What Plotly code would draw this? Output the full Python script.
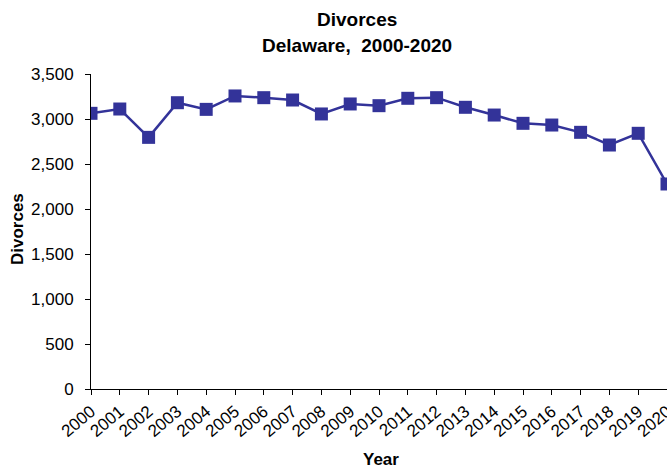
import plotly.graph_objects as go

years = list(range(2000, 2021))
divorces = [3063, 3111, 2796, 3181, 3107, 3256, 3237, 3211, 3056, 3167, 3148,
            3230, 3237, 3130, 3044, 2952, 2933, 2852, 2711, 2841, 2278]
y_ticks = [0, 500, 1000, 1500, 2000, 2500, 3000, 3500]
y_tick_labels = [f"{v:,}" for v in y_ticks]

FONT = "Liberation Sans, Arial, sans-serif"
W, H = 667, 468
# plot area in page pixels: x 91..667, y 74..389
L, T = 91, 74
PW, PH = 667 - 91, 389 - 74
R = W - L - PW
B = H - T - PH


def px_x(sx):
    return (sx - L) / PW


def px_y(sy):
    return (T + PH - sy) / PH


fig = go.Figure(go.Scatter(
    x=years, y=divorces, mode="lines+markers",
    line=dict(color="#333399", width=2.5),
    marker=dict(symbol="square", size=13, color="#333399"),
))

fig.update_layout(
    width=W, height=H,
    margin=dict(l=L, r=R, t=T, b=B, autoexpand=False),
    paper_bgcolor="white", plot_bgcolor="white",
    showlegend=False,
    font=dict(family=FONT, color="black", size=15),
    annotations=[
        dict(text="<b>Divorces</b>", x=px_x(357), y=px_y(20), xref="paper", yref="paper",
             xanchor="center", yanchor="middle", showarrow=False,
             font=dict(size=19, family=FONT)),
        dict(text="<b>Delaware,&nbsp; 2000-2020</b>", x=px_x(357), y=px_y(45),
             xref="paper", yref="paper", xanchor="center", yanchor="middle",
             showarrow=False, font=dict(size=19, family=FONT)),
        dict(text="<b>Year</b>", x=px_x(381), y=px_y(459), xref="paper", yref="paper",
             xanchor="center", yanchor="middle", showarrow=False,
             font=dict(size=17, family=FONT)),
        dict(text="<b>Divorces</b>", x=px_x(17), y=px_y(229), xref="paper", yref="paper",
             xanchor="center", yanchor="middle", showarrow=False, textangle=-90,
             font=dict(size=17, family=FONT)),
    ],
)
fig.update_xaxes(
    range=[2000, 2020], tickmode="array", tickvals=years,
    ticktext=[str(y) for y in years], tickangle=-40,
    showline=True, linecolor="black", linewidth=1,
    ticks="outside", ticklen=5, tickcolor="black",
    showgrid=False, zeroline=False, automargin=False,
    ticklabeloverflow="allow",
    tickfont=dict(size=17),
)
fig.update_yaxes(
    range=[0, 3500], tickmode="array", tickvals=y_ticks, ticktext=y_tick_labels,
    showline=True, linecolor="black", linewidth=1,
    ticks="outside", ticklen=5, tickcolor="black",
    showgrid=False, zeroline=False, automargin=False,
    ticklabelstandoff=8,
    tickfont=dict(size=17),
)

fig.write_html(
    "out.html",
    config={"displayModeBar": False},
    post_script="document.body.style.margin='0';"
                "document.documentElement.style.overflow='hidden';",
)
